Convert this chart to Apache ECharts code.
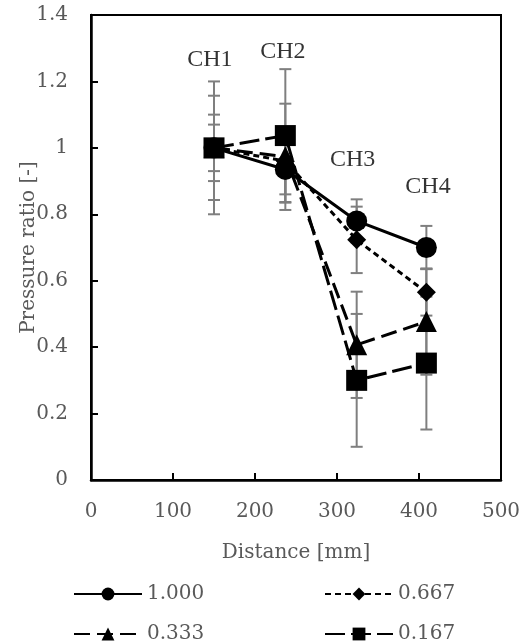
<!DOCTYPE html>
<html>
<head>
<meta charset="utf-8">
<script src="https://cdn.jsdelivr.net/npm/echarts@6/dist/echarts.min.js"></script>
<style>
  html, body { margin: 0; padding: 0; background: #fff; }
  #main { width: 531px; height: 642px; }
</style>
</head>
<body>
<div id="main"></div>
<script>
// channel positions [mm]
var distances = [150, 237, 324, 409];
var channels = ['CH1', 'CH2', 'CH3', 'CH4'];
var chLabelPos = [[145, 1.265], [234, 1.29], [319, 0.965], [411, 0.883]];

var seriesNames = ['1.000', '0.667', '0.333', '0.167'];
var ratio100 = [1.0, 0.935, 0.78, 0.70];
var ratio067 = [1.0, 0.96, 0.723, 0.565];
var ratio033 = [1.0, 0.973, 0.407, 0.477];
var ratio017 = [1.0, 1.037, 0.30, 0.352];

var err100 = [0.07, 0.10, 0.065, 0.065];
var err067 = [0.10, 0.10, 0.10, 0.07];
var err033 = [0.157, 0.16, 0.16, 0.16];
var err017 = [0.2, 0.2, 0.2, 0.2];

function all(){
	var dom = document.getElementById('main');
	var chart = echarts.init(dom);
	var serif = '"DejaVu Serif", serif';
	var times = '"Liberation Serif", serif';
	var grey = '#595959';

	function pts(vals){
		return distances.map(function(d, i){ return [d, vals[i]]; });
	}
	function bars(vals, errs){
		return distances.map(function(d, i){ return [d, vals[i] - errs[i], vals[i] + errs[i]]; });
	}
	var allBars = [].concat(
		bars(ratio100, err100), bars(ratio067, err067),
		bars(ratio033, err033), bars(ratio017, err017)
	);

	function lineSeries(name, vals, symbol, size, dash){
		return {
			name: name,
			type: 'line',
			data: pts(vals),
			symbol: symbol,
			symbolSize: size,
			z: 3,
			itemStyle: { color: '#000' },
			lineStyle: { color: '#000', width: 3, type: dash },
			emphasis: { disabled: true }
		};
	}

	var legendBase = {
		top: 584, height: 80, padding: 0, orient: 'vertical',
		itemWidth: 68, itemHeight: 16, itemGap: 20,
		textStyle: { fontFamily: serif, fontSize: 20, color: grey }
	};

	var option = {
		animation: false,
		grid: {
			left: 91, right: 30, top: 15, bottom: 162,
			outerBoundsMode: 'none',
			show: true, borderColor: '#000', borderWidth: 2
		},
		legend: [
			Object.assign({ left: 73, data: ['1.000', '0.333'] }, legendBase),
			Object.assign({ left: 324, data: ['0.667', '0.167'] }, legendBase)
		],
		xAxis: {
			type: 'value', min: 0, max: 500, interval: 100,
			name: 'Distance [mm]', nameLocation: 'middle', nameGap: 63,
			nameMoveOverlap: false,
			nameTextStyle: { fontFamily: serif, fontSize: 20, color: grey },
			axisLine: { lineStyle: { color: '#000', width: 2.5 } },
			axisTick: { inside: true, length: 7, lineStyle: { color: '#000', width: 2 } },
			axisLabel: { margin: 22, fontFamily: serif, fontSize: 20, color: grey },
			splitLine: { show: false }
		},
		yAxis: {
			type: 'value', min: 0, max: 1.4, interval: 0.2,
			name: 'Pressure ratio [-]', nameLocation: 'middle', nameGap: 52,
			nameMoveOverlap: false,
			nameTextStyle: { fontFamily: serif, fontSize: 20, color: grey },
			axisLine: { show: true, lineStyle: { color: '#000', width: 2.5 } },
			axisTick: { show: true, inside: true, length: 7, lineStyle: { color: '#000', width: 2 } },
			axisLabel: {
				margin: 23, fontFamily: serif, fontSize: 20, color: grey,
				formatter: function(v){ return String(Math.round(v * 10) / 10); }
			},
			splitLine: { show: false }
		},
		series: [
			{
				type: 'custom',
				z: 1,
				silent: true,
				data: allBars,
				renderItem: function(params, api){
					var x = api.value(0);
					var lo = api.coord([x, api.value(1)]);
					var hi = api.coord([x, api.value(2)]);
					var w = 6;
					var st = { stroke: '#7f7f7f', lineWidth: 2 };
					return {
						type: 'group',
						children: [
							{ type: 'line', shape: { x1: lo[0], y1: lo[1], x2: hi[0], y2: hi[1] }, style: st },
							{ type: 'line', shape: { x1: lo[0] - w, y1: lo[1], x2: lo[0] + w, y2: lo[1] }, style: st },
							{ type: 'line', shape: { x1: hi[0] - w, y1: hi[1], x2: hi[0] + w, y2: hi[1] }, style: st }
						]
					};
				}
			},
			lineSeries('1.000', ratio100, 'circle', 21, 'solid'),
			lineSeries('0.667', ratio067, 'diamond', 19, [6, 4]),
			lineSeries('0.333', ratio033, 'triangle', 21, [16, 7]),
			lineSeries('0.167', ratio017, 'rect', 21, [20, 6]),
			{
				type: 'scatter',
				symbolSize: 0,
				silent: true,
				data: chLabelPos.map(function(p, i){ return { value: p, name: channels[i] }; }),
				label: {
					show: true, position: 'inside',
					formatter: '{b}',
					fontFamily: times, fontSize: 24, color: '#000'
				}
			}
		]
	};
	chart.setOption(option);
}
all();
</script>
</body>
</html>
